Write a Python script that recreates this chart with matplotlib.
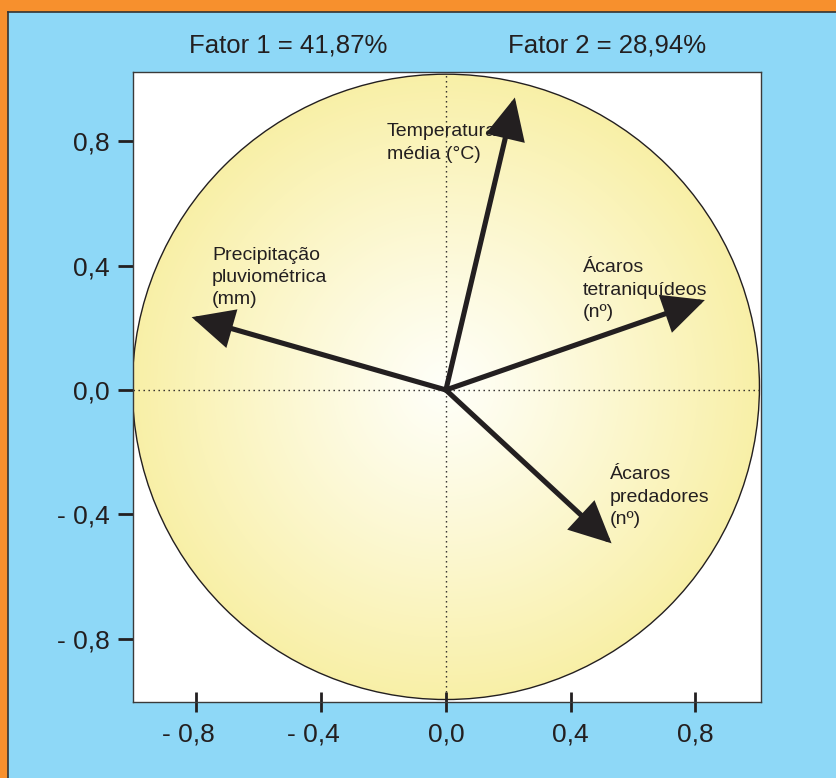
import numpy as np
import matplotlib
matplotlib.use("Agg")
import matplotlib.pyplot as plt
from matplotlib.patches import Circle, Rectangle
from matplotlib.lines import Line2D
from matplotlib.patches import ArrowStyle
import matplotlib.transforms as mtransforms

plt.rcParams['font.family'] = ['Liberation Sans', 'DejaVu Sans']

# ---- data ----
variables = ["Temperatura\nmédia (°C)",
             "Precipitação\npluviométrica\n(mm)",
             "Ácaros\ntetraniquídeos\n(nº)",
             "Ácaros\npredadores\n(nº)"]
factor1 = [0.221, -0.815, 0.830, 0.531]
factor2 = [0.940, 0.234, 0.289, -0.493]
label_x = [-0.189, -0.750, 0.438, 0.526]
label_y = [0.857, 0.461, 0.420, -0.246]
titles = ["Fator 1 = 41,87%", "Fator 2 = 28,94%"]
xticks = [-0.8, -0.4, 0.0, 0.4, 0.8]
xticklabels = ["- 0,8", "- 0,4", "0,0", "0,4", "0,8"]
yticks = [0.8, 0.4, 0.0, -0.4, -0.8]
yticklabels = ["0,8", "0,4", "0,0", "- 0,4", "- 0,8"]

TXT = '#231f20'
W, H = 837, 778
fig = plt.figure(figsize=(W / 100, H / 100), dpi=100)
fig.patch.set_facecolor('#8ed8f7')

# orange frame (top and left)
fig.patches.append(Rectangle((0, 1 - 12 / H), 1, 12 / H, transform=fig.transFigure,
                             facecolor='#f7902d', edgecolor='none', zorder=0))
fig.patches.append(Rectangle((0, 0), 8 / W, 1, transform=fig.transFigure,
                             facecolor='#f7902d', edgecolor='none', zorder=0))
fig.lines.append(Line2D([8 / W, 1], [1 - 12 / H, 1 - 12 / H], transform=fig.transFigure,
                        color='#333333', lw=1.2, zorder=1))
fig.lines.append(Line2D([8 / W, 8 / W], [0, 1 - 12 / H], transform=fig.transFigure,
                        color='#333333', lw=1.2, zorder=1))

ax = fig.add_axes([133 / W, 1 - 702 / H, 628 / W, 630 / H])
ax.set_facecolor('white')
ax.set_xlim(-1.003, 1.010)
ax.set_ylim(-1.003, 1.022)
for s in ax.spines.values():
    s.set_color('#3a3a3a')
    s.set_linewidth(1.0)

# gradient-filled circle
cx, cy, r = 0.0, 0.01, 1.005
n = 600
gx = np.linspace(cx - r, cx + r, n)
gy = np.linspace(cy - r, cy + r, n)
XX, YY = np.meshgrid(gx, gy)
rr = np.clip(np.sqrt((XX - cx) ** 2 + (YY - cy) ** 2) / r, 0, 1)
t = rr ** 1.1
c0 = np.array([1.0, 1.0, 0.975])
c1 = np.array([0.975, 0.94, 0.655])
img = c0[None, None, :] * (1 - t[..., None]) + c1[None, None, :] * t[..., None]
im = ax.imshow(img, extent=(cx - r, cx + r, cy - r, cy + r), origin='lower',
               zorder=0.5, interpolation='bilinear')
circ = Circle((cx, cy), r, facecolor='none', edgecolor='#231f20', lw=1.0, zorder=2)
ax.add_patch(circ)
im.set_clip_path(circ)
ax.set_aspect('auto')

# dotted axes
ax.axvline(0, color=TXT, lw=1.0, ls=(0, (1, 2.6)), zorder=1.5)
ax.axhline(0, color=TXT, lw=1.0, ls=(0, (1, 2.6)), zorder=1.5)

# arrows
style = ArrowStyle('-|>', head_length=1.0, head_width=0.48)
for x, y in zip(factor1, factor2):
    ax.annotate('', xy=(x, y), xytext=(0, 0),
                arrowprops=dict(arrowstyle=style, mutation_scale=24, lw=3.7,
                                color=TXT, shrinkA=0, shrinkB=0,
                                joinstyle='miter'),
                zorder=3)

for lab, lx, ly in zip(variables, label_x, label_y):
    ax.text(lx, ly, lab, ha='left', va='top', fontsize=14, color=TXT,
            linespacing=1.42, zorder=4)

# ticks
ax.set_xticks(xticks)
ax.set_xticklabels([])
ax.set_yticks(yticks)
ax.set_yticklabels(yticklabels, fontsize=19, color=TXT)
ax.tick_params(axis='x', direction='inout', length=14, width=2.0, color=TXT)
ax.tick_params(axis='y', direction='out', length=11, width=2.0, color=TXT, pad=6)

trans = mtransforms.blended_transform_factory(ax.transData, ax.transAxes)
for v, lab in zip(xticks, xticklabels):
    if lab.startswith('-'):
        ax.annotate(lab, xy=(v, 0), xycoords=trans, xytext=(13.2, -15),
                    textcoords='offset points', ha='right', va='top',
                    fontsize=19, color=TXT, annotation_clip=False)
    else:
        ax.annotate(lab, xy=(v, 0), xycoords=trans, xytext=(0, -15),
                    textcoords='offset points', ha='center', va='top',
                    fontsize=19, color=TXT, annotation_clip=False)

fig.text(288 / W, 1 - 46 / H, titles[0], ha='center', va='center', fontsize=18.5, color=TXT)
fig.text(607 / W, 1 - 46 / H, titles[1], ha='center', va='center', fontsize=18.5, color=TXT)

fig.savefig('out.png', dpi=100, facecolor=fig.get_facecolor())
